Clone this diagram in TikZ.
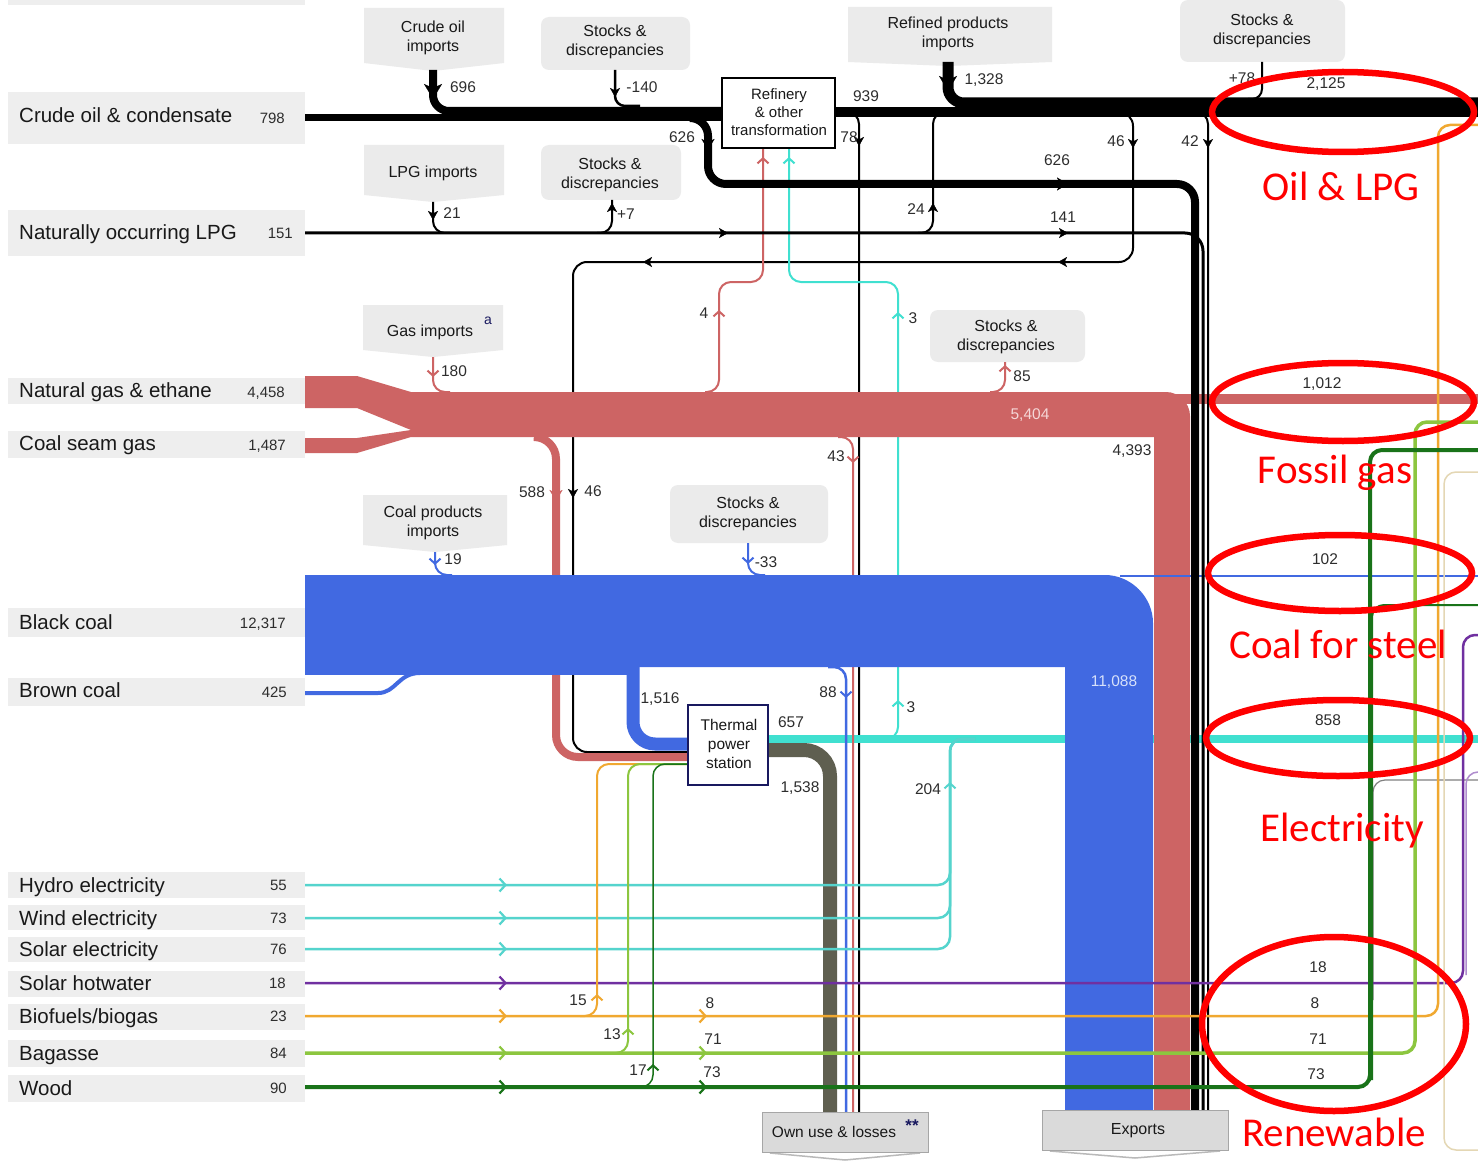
\documentclass[tikz,border=0pt]{standalone}
\usepackage{fontspec}
\setmainfont{Liberation Sans}
\newfontfamily\anfont{Carlito}
\usetikzlibrary{arrows.meta}
\definecolor{gasr}{RGB}{205,100,100}
\definecolor{coalb}{RGB}{65,105,225}
\definecolor{elec}{RGB}{64,224,208}
\definecolor{elecl}{RGB}{85,212,205}
\definecolor{own}{RGB}{95,95,80}
\definecolor{purp}{RGB}{112,48,160}
\definecolor{lpur}{RGB}{175,140,205}
\definecolor{oran}{RGB}{240,168,48}
\definecolor{lgrn}{RGB}{140,198,63}
\definecolor{dgrn}{RGB}{25,115,25}
\definecolor{beig}{RGB}{228,215,180}
\definecolor{bg}{RGB}{238,238,238}
\definecolor{boxg}{RGB}{235,235,235}
\definecolor{exg}{RGB}{218,218,218}
\definecolor{txt}{RGB}{25,25,25}
\definecolor{numc}{RGB}{45,45,45}
\definecolor{navy}{RGB}{25,25,95}
\definecolor{ann}{RGB}{255,0,0}
\definecolor{pinkw}{RGB}{245,215,215}
\definecolor{bluew}{RGB}{215,225,250}
\newcommand\arrR[2]{\draw[#1] ([xshift=-1pt]#2) -- (#2);}
\newcommand\arrL[2]{\draw[#1] ([xshift=1pt]#2) -- (#2);}
\newcommand\arrD[2]{\draw[#1] ([yshift=1pt]#2) -- (#2);}
\newcommand\arrU[2]{\draw[#1] ([yshift=-1pt]#2) -- (#2);}
\newcommand\leftlab[8]{\fill[bg] (8,#2) rectangle (305,#3);
  \node[lab] (#1) at (19,#4) {#5};
  \node[labnum] (#1n) at (#7,#8) {#6};}
\begin{document}
\begin{tikzpicture}[x=1pt,y=-1pt,
  lab/.style={anchor=west, inner sep=0pt, text height=14.5pt, text depth=0pt, font=\fontsize{20.5}{23}\selectfont, text=txt},
  labnum/.style={anchor=east, inner sep=0pt, text height=10.5pt, text depth=0pt, font=\fontsize{15}{17}\selectfont, text=numc},
  num/.style={inner sep=0pt, text height=11pt, text depth=0pt, font=\fontsize{15.5}{17}\selectfont, text=numc},
  boxtxt/.style={align=center, inner sep=0pt, font=\fontsize{16}{19}\selectfont, text=txt},
  annot/.style={inner sep=0pt, text height=26pt, text depth=0pt, font=\anfont\fontsize{41}{46}\selectfont, text=ann},
  tipS/.style={-{Stealth[length=9pt,width=10pt,inset=2.5pt]}, line width=0.2pt},
  tipM/.style={-{Stealth[length=11pt,width=13pt,inset=3pt]}, line width=0.2pt},
  tipL/.style={-{Stealth[length=15pt,width=18pt,inset=4pt]}, line width=0.2pt},
  chev/.style={-{Straight Barb[length=5pt,width=11pt]}, line width=2pt},
  chevB/.style={-{Straight Barb[length=6pt,width=13pt]}, line width=2.2pt},
  fline/.style={rounded corners=12},
]
\useasboundingbox (0,0) rectangle (1478,1161);
\fill[white] (0,0) rectangle (1478,1161);

% ---------- left labels ----------
\fill[bg] (8,0) rectangle (305,5);
\leftlab{crude}{92}{144}{115}{Crude oil \& condensate}{798}{285}{118}
\leftlab{nlpg}{210}{256}{232}{Naturally occurring LPG}{151}{293}{233}
\leftlab{ngas}{378}{404}{390}{Natural gas \& ethane}{4,458}{285}{392}
\leftlab{csg}{431}{458}{443}{Coal seam gas}{1,487}{286}{445}
\leftlab{bcoal}{608}{637}{622}{Black coal}{12,317}{286}{623}
\leftlab{brcoal}{678}{706}{690}{Brown coal}{425}{287}{692}
\leftlab{hydro}{872}{898}{885}{Hydro electricity}{55}{287}{885}
\leftlab{wind}{905}{930}{918}{Wind electricity}{73}{287}{918}
\leftlab{solar}{937}{962}{949}{Solar electricity}{76}{287}{949}
\leftlab{shw}{971}{997}{983}{Solar hotwater}{18}{286}{983}
\leftlab{bio}{1004}{1030}{1016}{Biofuels/biogas}{23}{287}{1016}
\leftlab{bag}{1040}{1067}{1053}{Bagasse}{84}{287}{1053}
\leftlab{wood}{1075}{1102}{1088}{Wood}{90}{287}{1088}

% ---------- source boxes ----------
\fill[boxg] (364,8) -- (504,8) -- (504,63) -- (433,71) -- (364,63) -- cycle;
\fill[boxg] (364,145) -- (504,145) -- (504,195) -- (433,202) -- (364,195) -- cycle;
\fill[boxg] (848,7) -- (1052,7) -- (1052,62) -- (948,66) -- (848,62) -- cycle;
\fill[boxg] (363,305) -- (503,305) -- (503,350) -- (433,357) -- (363,350) -- cycle;
\fill[boxg] (363,495) -- (507,495) -- (507,545) -- (435,552) -- (363,545) -- cycle;
\fill[boxg, rounded corners=8] (541,17) rectangle (690,70);
\fill[boxg, rounded corners=8] (541,145) rectangle (681,200);
\fill[boxg, rounded corners=8] (1180,0) rectangle (1345,62);
\fill[boxg, rounded corners=8] (930,310) rectangle (1085,362);
\fill[boxg, rounded corners=8] (670,485) rectangle (828,543);

% ---------- lines under the bands ----------
\draw[black, line width=7] (305,118) -- (722,118);
\draw[black, line width=8, rounded corners=16] (433,70) -- (433,111) -- (722,111);
\draw[black, line width=2.5, rounded corners=10] (615,70) -- (615,106) -- (640,106);
\draw[black, line width=10] (835,112) -- (1478,112);
\draw[black, line width=11, rounded corners=16] (948,62) -- (948,103) -- (1478,103);
\draw[black, line width=2, rounded corners=10] (1262,62) -- (1262,99) -- (1248,99);
\draw[black, line width=2, fline] (845,112) -- (859,112) -- (859,1112);
\draw[black, line width=2, rounded corners=14] (1120,112) -- (1133,112) -- (1133,262) -- (573,262) -- (573,752) -- (690,752);
\draw[black, line width=2, fline] (433,202) -- (433,233) -- (450,233);
\draw[black, line width=2, fline] (597,233) -- (612,233) -- (612,200);
\draw[black, line width=2, fline] (918,233) -- (933,233) -- (933,112) -- (950,112);

\draw[elec, line width=2, fline] (885,739) -- (898,739) -- (898,282) -- (789,282) -- (789,148);
\draw[elec, line width=8] (768,739) -- (1478,739);
\draw[gasr, line width=2, fline] (705,392) -- (719,392) -- (719,282) -- (763,282) -- (763,148);
\draw[gasr, line width=2, fline] (838,437) -- (853,437) -- (853,1112);
\draw[gasr, line width=2, fline] (990,392) -- (1005,392) -- (1005,362);
\draw[gasr, line width=2, fline] (433,357) -- (433,392) -- (450,392);
\draw[coalb, line width=2.5, fline] (828,667) -- (846,667) -- (846,1112);
\draw[coalb, line width=2, fline] (435,552) -- (435,575) -- (452,575);
\draw[coalb, line width=2, fline] (748,543) -- (748,575) -- (765,575);
\draw[gasr, line width=8, rounded corners=22] (540,437) -- (556,437) -- (556,757) -- (690,757);
\draw[own, line width=14, rounded corners=26] (768,750) -- (830,750) -- (830,1112);

% ---------- bands ----------
\fill[gasr] (305,376) -- (357,376) -- (411,392) -- (1166,392) .. controls (1179,392) and (1190,403) .. (1190,416) -- (1190,1110) -- (1154,1110) -- (1154,437) -- (411,437) -- (357,453) -- (305,453) -- (305,438) -- (357,438) -- (411,430) -- (357,408) -- (305,408) -- cycle;
\fill[gasr] (1166,394) rectangle (1478,404);
\fill[coalb] (305,575) -- (1105,575) .. controls (1131,575) and (1153,597) .. (1153,623) -- (1153,1110) -- (1065,1110) -- (1065,667) -- (305,667) -- cycle;
\fill[coalb] (305,667) rectangle (633,675);
\draw[coalb, line width=13, rounded corners=22] (633,662) -- (633,744) -- (690,744);
\draw[coalb, line width=4] (305,693) -- (378,693) .. controls (396,693) and (398,673) .. (420,673);
\draw[coalb, line width=2] (1120,576) -- (1478,576);

% ---------- black bundle to exports ----------
\draw[black, line width=3, rounded corners=18] (305,233) -- (1203,233) -- (1203,1110);
\draw[black, line width=8, rounded corners=18] (690,118) -- (708,118) -- (708,184) -- (1195,184) -- (1195,1110);
\draw[black, line width=2, fline] (1195,112) -- (1208,112) -- (1208,1110);

% ---------- renewables ----------
\draw[elecl, line width=2.5, fline] (305,885) -- (950,885) -- (950,739) -- (975,739);
\draw[elecl, line width=2.5, fline] (305,918) -- (950,918) -- (950,739) -- (975,739);
\draw[elecl, line width=2.5, fline] (305,949) -- (950,949) -- (950,739) -- (975,739);
\draw[gray, line width=1.2, fline] (1373,1000) -- (1373,780) -- (1478,780);
\draw[lpur, line width=1.5, fline] (1478,772) -- (1466,772) -- (1466,975);
\draw[purp, line width=2.5, fline] (305,983) -- (1463,983) -- (1463,635) -- (1478,635);
\draw[beig, line width=1.5, fline] (1478,472) -- (1444,472) -- (1444,1150) -- (1478,1150);
\draw[oran, line width=2.5, fline] (305,1016) -- (1438,1016) -- (1438,125) -- (1478,125);
\draw[lgrn, line width=3.5, fline] (305,1053) -- (1415,1053) -- (1415,422) -- (1478,422);
\draw[dgrn, line width=2, fline] (1372,1080) -- (1372,605) -- (1478,605);
\draw[dgrn, line width=4, fline] (305,1087) -- (1370,1087) -- (1370,450) -- (1478,450);
\draw[oran, line width=2, fline] (580,1016) -- (597,1016) -- (597,764) -- (690,764);
\draw[lgrn, line width=2, fline] (612,1053) -- (628,1053) -- (628,764) -- (690,764);
\draw[dgrn, line width=1.5, fline] (640,1087) -- (653,1087) -- (653,764) -- (690,764);

% ---------- process boxes ----------
\node[draw=black, line width=2.5pt, fill=white, minimum width=113pt, minimum height=70pt, inner sep=0pt] (refbox) at (778.5,113) {};
\node[boxtxt, font=\fontsize{15}{18}\selectfont] (reft) at (779,112) {Refinery\\\& other\\transformation};
\node[draw=navy, line width=2.5pt, fill=white, minimum width=80pt, minimum height=80pt, inner sep=0pt] (tps) at (728,745) {};
\node[boxtxt, font=\fontsize{15.5}{19}\selectfont] (tpst) at (729,744) {Thermal\\power\\station};
\draw[gray!55, line width=1.5] (770,1153) -- (845,1160) -- (920,1153);
\draw[gray!55, line width=1.5] (1050,1151) -- (1135,1158) -- (1220,1151);
\node[draw=gray!70, fill=exg, minimum width=166pt, minimum height=40pt, inner sep=0pt] (ownbox) at (845,1132) {};
\node[draw=gray!70, fill=exg, minimum width=186pt, minimum height=40pt, inner sep=0pt] (expbox) at (1135,1130) {};
\node[boxtxt, font=\fontsize{15.5}{18}\selectfont] (ownt) at (834,1132) {Own use \& losses};
\node[inner sep=0pt, font=\bfseries\fontsize{17}{17}\selectfont, text=navy] (ownst) at (912,1126) {**};
\node[boxtxt, font=\fontsize{16}{18}\selectfont] (expt) at (1138,1131) {Exports};

% ---------- source box texts ----------
\node[boxtxt] (t1) at (433,38) {Crude oil\\imports};
\node[boxtxt] (t2) at (615,42) {Stocks \&\\discrepancies};
\node[boxtxt] (t3) at (433,173) {LPG imports};
\node[boxtxt] (t4) at (610,175) {Stocks \&\\discrepancies};
\node[boxtxt] (t5) at (948,34) {Refined products\\imports};
\node[boxtxt] (t6) at (1262,31) {Stocks \&\\discrepancies};
\node[boxtxt] (t7) at (430,332) {Gas imports};
\node[inner sep=0pt, font=\fontsize{14}{14}\selectfont, text=navy] (t7a) at (488,321) {a};
\node[boxtxt] (t8) at (1006,337) {Stocks \&\\discrepancies};
\node[boxtxt] (t9) at (433,523) {Coal products\\imports};
\node[boxtxt] (t10) at (748,514) {Stocks \&\\discrepancies};

% ---------- arrowheads ----------
\arrD{tipL}{433,99}
\arrD{tipS}{615,97}
\arrD{tipL}{948,91}
\arrD{tipM}{708,150}
\arrD{tipS}{859,146}
\arrD{tipS}{1133,148}
\arrD{tipS}{1208,148}
\arrD{tipS}{433,220}
\arrU{tipS}{612,203}
\arrU{tipS}{933,203}
\arrR{tipM}{1068,184}
\arrR{tipS}{1068,233}
\arrR{tipS}{728,233}
\arrL{tipS}{1058,262}
\arrL{tipS}{643,262}
\arrD{tipS}{573,498}
\arrD{chev,gasr}{433,377}
\arrU{chev,gasr}{719,310}
\arrU{chev,gasr}{763,157}
\arrD{chev,gasr}{853,463}
\arrU{chev,gasr}{1005,365}
\arrD{tipM,gasr}{556,501}
\arrD{chev,coalb}{435,565}
\arrD{chev,coalb}{748,564}
\arrD{chev,coalb}{846,698}
\arrU{chev,elec}{898,312}
\arrU{chev,elec}{898,700}
\arrU{chev,elec}{789,157}
\arrU{chev,elecl}{950,782}
\arrR{chevB,elecl}{507,885}
\arrR{chevB,elecl}{507,918}
\arrR{chevB,elecl}{507,949}
\arrR{chevB,purp}{507,983}
\arrR{chevB,oran}{507,1016}
\arrR{chevB,oran}{707,1016}
\arrR{chevB,lgrn}{507,1053}
\arrR{chevB,lgrn}{707,1053}
\arrR{chevB,dgrn}{507,1087}
\arrR{chevB,dgrn}{707,1087}
\arrU{chev,oran}{597,994}
\arrU{chev,lgrn}{628,1028}
\arrU{chev,dgrn}{653,1064}

% ---------- flow numbers ----------
\node[num] (v1) at (463,87) {696};
\node[num] (v2) at (642,87) {-140};
\node[num] (v3) at (682,137) {626};
\node[num] (v4) at (866,96) {939};
\node[num] (v5) at (849,137) {78};
\node[num] (v6) at (984,79) {1,328};
\node[num] (v7) at (1116,141) {46};
\node[num] (v8) at (1190,141) {42};
\node[num] (v9) at (1242,78) {+78};
\node[num] (v10) at (1326,83) {2,125};
\node[num] (v11) at (1057,160) {626};
\node[num] (v12) at (916,209) {24};
\node[num] (v13) at (1063,217) {141};
\node[num] (v14) at (452,213) {21};
\node[num] (v15) at (626,214) {+7};
\node[num] (v16) at (704,313) {4};
\node[num] (v17) at (913,318) {3};
\node[num] (v18) at (1022,376) {85};
\node[num] (v19) at (454,371) {180};
\node[num] (v20) at (1322,383) {1,012};
\node[num, text=pinkw] (v21) at (1030,414) {5,404};
\node[num] (v22) at (1132,450) {4,393};
\node[num] (v23) at (836,456) {43};
\node[num] (v24) at (532,492) {588};
\node[num] (v25) at (593,491) {46};
\node[num] (v26) at (453,559) {19};
\node[num] (v27) at (766,562) {-33};
\node[num] (v28) at (1325,559) {102};
\node[num, text=bluew] (v29) at (1114,681) {11,088};
\node[num] (v30) at (660,698) {1,516};
\node[num] (v31) at (828,692) {88};
\node[num] (v32) at (911,707) {3};
\node[num] (v33) at (791,722) {657};
\node[num] (v34) at (1328,720) {858};
\node[num] (v35) at (800,787) {1,538};
\node[num] (v36) at (928,789) {204};
\node[num] (v37) at (1318,967) {18};
\node[num] (v38) at (578,1000) {15};
\node[num] (v39) at (710,1003) {8};
\node[num] (v40) at (1315,1003) {8};
\node[num] (v41) at (612,1034) {13};
\node[num] (v42) at (713,1039) {71};
\node[num] (v43) at (1318,1039) {71};
\node[num] (v44) at (638,1070) {17};
\node[num] (v45) at (712,1072) {73};
\node[num] (v46) at (1316,1074) {73};

% ---------- red annotations ----------
\draw[ann, line width=6.5pt] (1343,112) ellipse [x radius=131, y radius=40];
\draw[ann, line width=6.5pt] (1343,402) ellipse [x radius=131, y radius=39];
\draw[ann, line width=6.5pt] (1340,573) ellipse [x radius=132, y radius=38];
\draw[ann, line width=6.5pt] (1338,738) ellipse [x radius=132, y radius=38];
\draw[ann, line width=6.5pt] (1334,1024) ellipse [x radius=132, y radius=87];
\node[annot] (a1) at (1341,188) {Oil \& LPG};
\node[annot] (a2) at (1335,470) {Fossil gas};
\node[annot] (a3) at (1338,645) {Coal for steel};
\node[annot] (a4) at (1342,828) {Electricity};
\node[annot] (a5) at (1334,1133) {Renewable};
\end{tikzpicture}
\end{document}
